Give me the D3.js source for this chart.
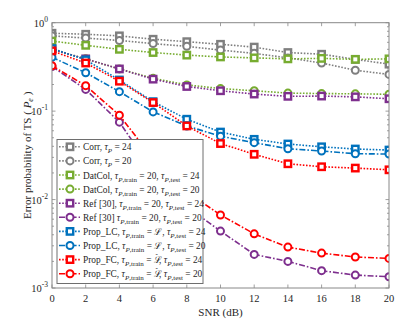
<!DOCTYPE html>
<html>
<head>
<meta charset="utf-8">
<script src="https://cdn.jsdelivr.net/npm/d3@7"></script>
<style>
  body { margin: 0; background: #fff; }
  svg text { font-family: "Liberation Serif", "Times New Roman", serif; fill: #262626; }
</style>
</head>
<body>
<svg id="chart" width="415" height="335"></svg>
<script>
// SNR points (dB)
var snr = [0, 2, 4, 6, 8, 10, 12, 14, 16, 18, 20];

// error probability per scheme
var corr24   = [0.76, 0.74, 0.71, 0.65, 0.61, 0.57, 0.53, 0.46, 0.44, 0.385, 0.34];
var corr20   = [0.71, 0.67, 0.63, 0.58, 0.54, 0.49, 0.45, 0.40, 0.35, 0.29, 0.26];
var datcol24 = [0.62, 0.555, 0.50, 0.46, 0.43, 0.41, 0.40, 0.39, 0.395, 0.385, 0.39];
var datcol20 = [0.50, 0.39, 0.30, 0.235, 0.198, 0.18, 0.17, 0.16, 0.158, 0.157, 0.155];
var ref24    = [0.50, 0.39, 0.30, 0.23, 0.19, 0.17, 0.156, 0.147, 0.148, 0.145, 0.138];
var ref20    = [0.32, 0.176, 0.075, 0.021, 0.0083, 0.0044, 0.0024, 0.0020, 0.00157, 0.0014, 0.00134];
var lc24     = [0.51, 0.38, 0.225, 0.128, 0.081, 0.058, 0.048, 0.0425, 0.0395, 0.0373, 0.0363];
var lc20     = [0.406, 0.272, 0.166, 0.098, 0.068, 0.052, 0.044, 0.0376, 0.0354, 0.033, 0.0327];
var fc24     = [0.48, 0.35, 0.218, 0.125, 0.068, 0.043, 0.0325, 0.0254, 0.0235, 0.0227, 0.0217];
var fc20     = [0.326, 0.194, 0.09, 0.029, 0.0122, 0.0067, 0.0041, 0.0029, 0.00248, 0.00224, 0.00216];

var xTicks = [0, 2, 4, 6, 8, 10, 12, 14, 16, 18, 20];
var yTicks = [1e-3, 1e-2, 1e-1, 1];
var yTickExp = ["-3", "-2", "-1", "0"];

// legend labels: segments [text, italic, subscript, hat]
var labels = [
  [["Corr, "], ["\u03C4", 1], ["P", 1, 1], [" = 24"]],
  [["Corr, "], ["\u03C4", 1], ["P", 1, 1], [" = 20"]],
  [["DatCol, "], ["\u03C4", 1], ["P", 1, 1], [",train", 0, 1], [" = 20, "], ["\u03C4", 1], ["P", 1, 1], [",test", 0, 1], [" = 24"]],
  [["DatCol, "], ["\u03C4", 1], ["P", 1, 1], [",train", 0, 1], [" = 20, "], ["\u03C4", 1], ["P", 1, 1], [",test", 0, 1], [" = 20"]],
  [["Ref [30], "], ["\u03C4", 1], ["P", 1, 1], [",train", 0, 1], [" = 20, "], ["\u03C4", 1], ["P", 1, 1], [",test", 0, 1], [" = 24"]],
  [["Ref [30]  "], ["\u03C4", 1], ["P", 1, 1], [",train", 0, 1], [" = 20, "], ["\u03C4", 1], ["P", 1, 1], [",test", 0, 1], [" = 20"]],
  [["Prop_LC, "], ["\u03C4", 1], ["P", 1, 1], [",train", 0, 1], [" = "], ["\u2112"], [", "], ["\u03C4", 1], ["P", 1, 1], [",test", 0, 1], [" = 24"]],
  [["Prop_LC, "], ["\u03C4", 1], ["P", 1, 1], [",train", 0, 1], [" = "], ["\u2112"], [", "], ["\u03C4", 1], ["P", 1, 1], [",test", 0, 1], [" = 20"]],
  [["Prop_FC, "], ["\u03C4", 1], ["P", 1, 1], [",train", 0, 1], [" = "], ["\u2112", 0, 0, 1], [", "], ["\u03C4", 1], ["P", 1, 1], [",test", 0, 1], [" = 24"]],
  [["Prop_FC, "], ["\u03C4", 1], ["P", 1, 1], [",train", 0, 1], [" = "], ["\u2112", 0, 0, 1], [", "], ["\u03C4", 1], ["P", 1, 1], [",test", 0, 1], [" = 20"]]
];

var gray = "#7f7f7f", green = "#77ac30", purple = "#7e2f8e", blue = "#0072bd", red = "#ff0000";
var dot = "1.6,1.6", dashdot = "6,2,1.6,2";

var series = [
  {values: corr24,   color: gray,   dash: dot,     marker: "square"},
  {values: corr20,   color: gray,   dash: dot,     marker: "circle"},
  {values: datcol24, color: green,  dash: dot,     marker: "square"},
  {values: datcol20, color: green,  dash: dot,     marker: "circle"},
  {values: ref24,    color: purple, dash: dot,     marker: "square"},
  {values: ref20,    color: purple, dash: dashdot, marker: "circle"},
  {values: lc24,     color: blue,   dash: dot,     marker: "square"},
  {values: lc20,     color: blue,   dash: dashdot, marker: "circle"},
  {values: fc24,     color: red,    dash: dot,     marker: "square"},
  {values: fc20,     color: red,    dash: dashdot, marker: "circle"}
];
series.forEach(function(s, i) { s.label = labels[i]; });

var pLeft = 52, pRight = 389, pTop = 22.7, pBottom = 288;
var svg = d3.select("#chart");
var x = d3.scaleLinear().domain([0, 20]).range([pLeft, pRight]);
var y = d3.scaleLog().domain([1e-3, 1]).range([pBottom, pTop]);

svg.append("defs").append("clipPath").attr("id", "plotclip")
  .append("rect").attr("x", pLeft).attr("y", pTop).attr("width", pRight - pLeft).attr("height", pBottom - pTop);

var axisColor = "#888";

// ticks (inward) on all four sides
var tk = svg.append("g").attr("stroke", axisColor).attr("stroke-width", 0.8);
xTicks.forEach(function(t) {
  tk.append("line").attr("x1", x(t)).attr("x2", x(t)).attr("y1", pBottom).attr("y2", pBottom - 3.5);
  tk.append("line").attr("x1", x(t)).attr("x2", x(t)).attr("y1", pTop).attr("y2", pTop + 3.5);
});
var minor = [];
[1e-3, 1e-2, 1e-1].forEach(function(d) { for (var k = 2; k <= 9; k++) minor.push(d * k); });
yTicks.forEach(function(t) {
  tk.append("line").attr("x1", pLeft).attr("x2", pLeft + 3.5).attr("y1", y(t)).attr("y2", y(t));
  tk.append("line").attr("x1", pRight).attr("x2", pRight - 3.5).attr("y1", y(t)).attr("y2", y(t));
});
minor.forEach(function(t) {
  tk.append("line").attr("x1", pLeft).attr("x2", pLeft + 2).attr("y1", y(t)).attr("y2", y(t));
  tk.append("line").attr("x1", pRight).attr("x2", pRight - 2).attr("y1", y(t)).attr("y2", y(t));
});

// series
var line = d3.line().x(function(d, i) { return x(snr[i]); }).y(function(d) { return y(d); });
var plot = svg.append("g").attr("clip-path", "url(#plotclip)");

function drawMarker(g, type, cx, cy, color) {
  if (type === "square") {
    g.append("rect").attr("x", cx - 3.2).attr("y", cy - 3.2).attr("width", 6.4).attr("height", 6.4)
      .attr("fill", "#fff").attr("stroke", color).attr("stroke-width", 2.4);
  } else {
    g.append("circle").attr("cx", cx).attr("cy", cy).attr("r", 3.5)
      .attr("fill", "#fff").attr("stroke", color).attr("stroke-width", 2);
  }
}

series.forEach(function(s) {
  var g = plot.append("g");
  g.append("path").attr("d", line(s.values)).attr("fill", "none")
    .attr("stroke", s.color).attr("stroke-width", 1.6).attr("stroke-dasharray", s.dash);
  s.values.forEach(function(v, i) { drawMarker(g, s.marker, x(snr[i]), y(v), s.color); });
});

// frame
svg.append("rect").attr("x", pLeft).attr("y", pTop).attr("width", pRight - pLeft).attr("height", pBottom - pTop)
  .attr("fill", "none").attr("stroke", axisColor).attr("stroke-width", 1);

// tick labels
svg.append("g").selectAll("text").data(xTicks).enter().append("text")
  .attr("x", function(d) { return x(d); }).attr("y", 301.5)
  .attr("text-anchor", "middle").attr("font-size", 10.5).text(function(d) { return d; });

var yl = svg.append("g").selectAll("text").data(yTicks).enter().append("text")
  .attr("x", pLeft - 4).attr("y", function(d) { return y(d) + 4; })
  .attr("text-anchor", "end").attr("font-size", 10.5);
yl.append("tspan").text("10");
yl.append("tspan").attr("dy", -5).attr("font-size", 7.5).text(function(d, i) { return yTickExp[i]; });

// axis titles
svg.append("text").attr("x", (pLeft + pRight) / 2).attr("y", 316).attr("text-anchor", "middle")
  .attr("font-size", 11).text("SNR (dB)");
var yt = svg.append("text").attr("transform", "translate(31," + ((pTop + pBottom) / 2) + ") rotate(-90)")
  .attr("text-anchor", "middle").attr("font-size", 11);
yt.append("tspan").text("Error probability of TS ( ");
yt.append("tspan").attr("font-style", "italic").text("P");
yt.append("tspan").attr("font-style", "italic").attr("font-size", 8).attr("dy", 2).text("e");
yt.append("tspan").attr("dy", -2).text(" )");

// legend
var lx = 57, ly = 139.5, lw = 146, lh = 144, rowH = 14.1;
var leg = svg.append("g");
leg.append("rect").attr("x", lx).attr("y", ly).attr("width", lw).attr("height", lh)
  .attr("fill", "#fff").attr("stroke", "#6e6e6e").attr("stroke-width", 1);
series.forEach(function(s, i) {
  var cy = ly + 7.3 + i * rowH;
  leg.append("line").attr("x1", lx + 2).attr("x2", lx + 23).attr("y1", cy).attr("y2", cy)
    .attr("stroke", s.color).attr("stroke-width", 1.6).attr("stroke-dasharray", s.dash);
  drawMarker(leg, s.marker, lx + 13, cy, s.color);
  var t = leg.append("text").attr("x", lx + 26).attr("y", cy + 3.5).attr("font-size", 9.4);
  var shifted = false, undoHat = false;
  s.label.forEach(function(seg) {
    var ts = t.append("tspan").text(seg[0]);
    var dy = 0, dx = 0;
    if (undoHat) { dy += 5; dx += 1.2; undoHat = false; }
    if (seg[1]) ts.attr("font-style", "italic");
    if (seg[2] && !shifted) { dy += 3; shifted = true; }
    if (!seg[2] && shifted) { dy -= 3; shifted = false; }
    if (seg[2]) ts.attr("font-size", 7);
    if (dy) ts.attr("dy", dy);
    if (dx) ts.attr("dx", dx);
    if (seg[3]) {
      // hat over the script L
      t.append("tspan").attr("dx", -6.2).attr("dy", -5).attr("font-size", 7).text("\u02C6");
      undoHat = true;
    }
  });
});
</script>
</body>
</html>
